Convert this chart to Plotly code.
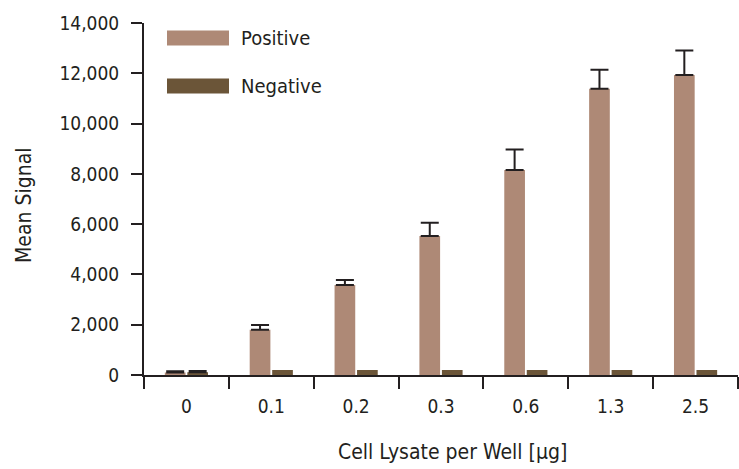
import plotly.graph_objects as go

categories = ["0", "0.1", "0.2", "0.3", "0.6", "1.3", "2.5"]
positive = [100, 1800, 3580, 5530, 8150, 11380, 11930]
positive_err = [50, 190, 200, 530, 820, 760, 980]
negative = [110, 200, 200, 200, 200, 200, 200]
negative_err = [50]  # only the first group shows an error bar
series_names = ["Positive", "Negative"]
series_colors = ["#AE8976", "#6B5538"]
y_ticks = [0, 2000, 4000, 6000, 8000, 10000, 12000, 14000]
y_ticklabels = ["0", "2,000", "4,000", "6,000", "8,000", "10,000", "12,000", "14,000"]

FONT = "Liberation Sans Narrow, DejaVu Sans Condensed, Arial Narrow, sans-serif"
INK = "#231F20"

fig = go.Figure()
fig.add_trace(go.Bar(
    x=categories, y=positive, name=series_names[0],
    marker=dict(color=series_colors[0], line=dict(width=0)),
    error_y=dict(type="data", symmetric=False, array=positive_err,
                 arrayminus=[0] * len(positive_err),
                 color=INK, thickness=2, width=9),
))
fig.add_trace(go.Bar(
    x=categories, y=negative, name=series_names[1],
    marker=dict(color=series_colors[1], line=dict(width=0)),
    error_y=dict(type="data", symmetric=False, array=negative_err,
                 arrayminus=[0] * len(negative_err),
                 color=INK, thickness=2, width=9),
))

fig.update_layout(
    width=739, height=469,
    margin=dict(l=144, r=1, t=23, b=94),
    paper_bgcolor="white", plot_bgcolor="white",
    barmode="group", bargap=0.47, bargroupgap=0.08,
    showlegend=False,
    font=dict(family=FONT, size=19, color=INK),
)
fig.update_xaxes(
    type="category", showgrid=False, zeroline=False,
    showline=True, linecolor=INK, linewidth=2,
    ticks="outside", tickson="boundaries", ticklen=12, tickwidth=2, tickcolor=INK,
    ticklabelstandoff=13,
    tickfont=dict(family=FONT, size=19, color=INK),
)
fig.update_yaxes(
    range=[0, 14000], showgrid=False, zeroline=False,
    showline=True, linecolor=INK, linewidth=2,
    ticks="outside", ticklen=11, tickwidth=2, tickcolor=INK,
    tickvals=y_ticks, ticktext=y_ticklabels,
    ticklabelstandoff=8,
    tickfont=dict(family=FONT, size=19, color=INK),
)

# axis titles
fig.add_annotation(text="Cell Lysate per Well [μg]", xref="paper", yref="paper",
                   x=(452 - 144) / 594, y=-(452 - 375) / 352, showarrow=False,
                   font=dict(family=FONT, size=21, color=INK), xanchor="center", yanchor="middle")
fig.add_annotation(text="Mean Signal", xref="paper", yref="paper",
                   x=-(144 - 24) / 594, y=1 - (205 - 23) / 352, showarrow=False, textangle=-90,
                   font=dict(family=FONT, size=21, color=INK), xanchor="center", yanchor="middle")

# legend drawn as swatches + labels
for i, (name, color) in enumerate(zip(series_names, series_colors)):
    cy = 38 + i * 48
    y0 = 1 - (cy - 7.5 - 23) / 352
    y1 = 1 - (cy + 7.5 - 23) / 352
    fig.add_shape(type="rect", xref="paper", yref="paper",
                  x0=(167 - 144) / 594, x1=(229 - 144) / 594, y0=y1, y1=y0,
                  fillcolor=color, line=dict(width=0))
    fig.add_annotation(text=name, xref="paper", yref="paper",
                       x=(239 - 144) / 594, y=1 - (cy - 23) / 352, showarrow=False,
                       xanchor="left", yanchor="middle",
                       font=dict(family=FONT, size=20, color=INK))

fig.write_html("out.html")
